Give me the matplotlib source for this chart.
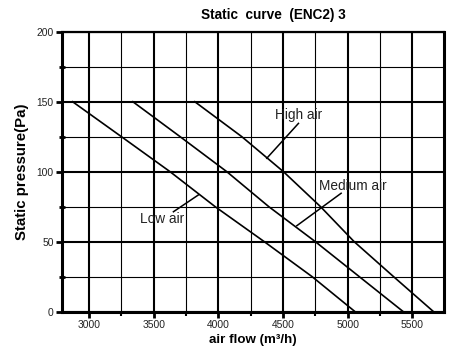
import numpy as np
import matplotlib.pyplot as plt
from matplotlib.ticker import MultipleLocator

plt.rcParams['font.family'] = ['Liberation Sans', 'DejaVu Sans']

# Static pressure points (Pa) and the matching air flow for each fan speed (m3/h)
pressure = [150, 125, 100, 75, 50, 25, 0]
flow_low = [2872, 3250, 3626, 3975, 4355, 4725, 5057]
flow_medium = [3338, 3704, 4065, 4390, 4750, 5090, 5430]
flow_high = [3817, 4181, 4503, 4790, 5050, 5355, 5664]

# label text, text position, leader line start and end (data units)
labels = ["High air", "Medium air", "Low air"]
label_pos = [(4622, 140.5), (5040, 90), (3568, 66)]
leader_from = [(4619, 134.5), (4949, 84.6), (3652, 71.4)]
leader_to = [(4374, 109.6), (4606, 61.4), (3845, 83.4)]

fig = plt.figure(figsize=(4.49, 3.58), dpi=100)
ax = fig.add_axes([0.138, 0.1293, 0.851, 0.7822])

ax.set_xlim(2790, 5745)
ax.set_ylim(0, 200)

ax.xaxis.set_major_locator(MultipleLocator(500))
ax.xaxis.set_minor_locator(MultipleLocator(250))
ax.yaxis.set_major_locator(MultipleLocator(50))
ax.yaxis.set_minor_locator(MultipleLocator(25))

ax.grid(which='major', color='black', linewidth=1.5)
ax.grid(which='minor', color='black', linewidth=0.8)
ax.set_axisbelow(True)

for name, s in ax.spines.items():
    s.set_linewidth(2.2 if name != 'top' else 1.6)

ax.tick_params(which='major', direction='out', length=4, width=2, labelsize=7.4,
               labelcolor='#222222', pad=2)
ax.tick_params(axis='x', which='minor', direction='out', length=3, width=1.5)
ax.tick_params(axis='y', which='minor', direction='inout', length=5, width=2)

for flow in (flow_low, flow_medium, flow_high):
    ax.plot(flow, pressure, color='black', linewidth=1.2)

for text, pos, p0, p1 in zip(labels, label_pos, leader_from, leader_to):
    ax.plot([p0[0], p1[0]], [p0[1], p1[1]], color='black', linewidth=1.1)
    ax.text(pos[0], pos[1], text, ha='center', va='center', fontsize=9.8,
            color='#222222')

ax.set_xlabel("air flow (m³/h)", fontsize=9.6, fontweight='bold', labelpad=3)
ax.set_ylabel("Static pressure(Pa)", fontsize=10.8, fontweight='bold', labelpad=5)
fig.text(0.609, 0.958, "Static  curve  (ENC2) 3", ha='center', va='center',
         fontsize=9.8, fontweight='bold')

fig.savefig("out.png", dpi=100)
